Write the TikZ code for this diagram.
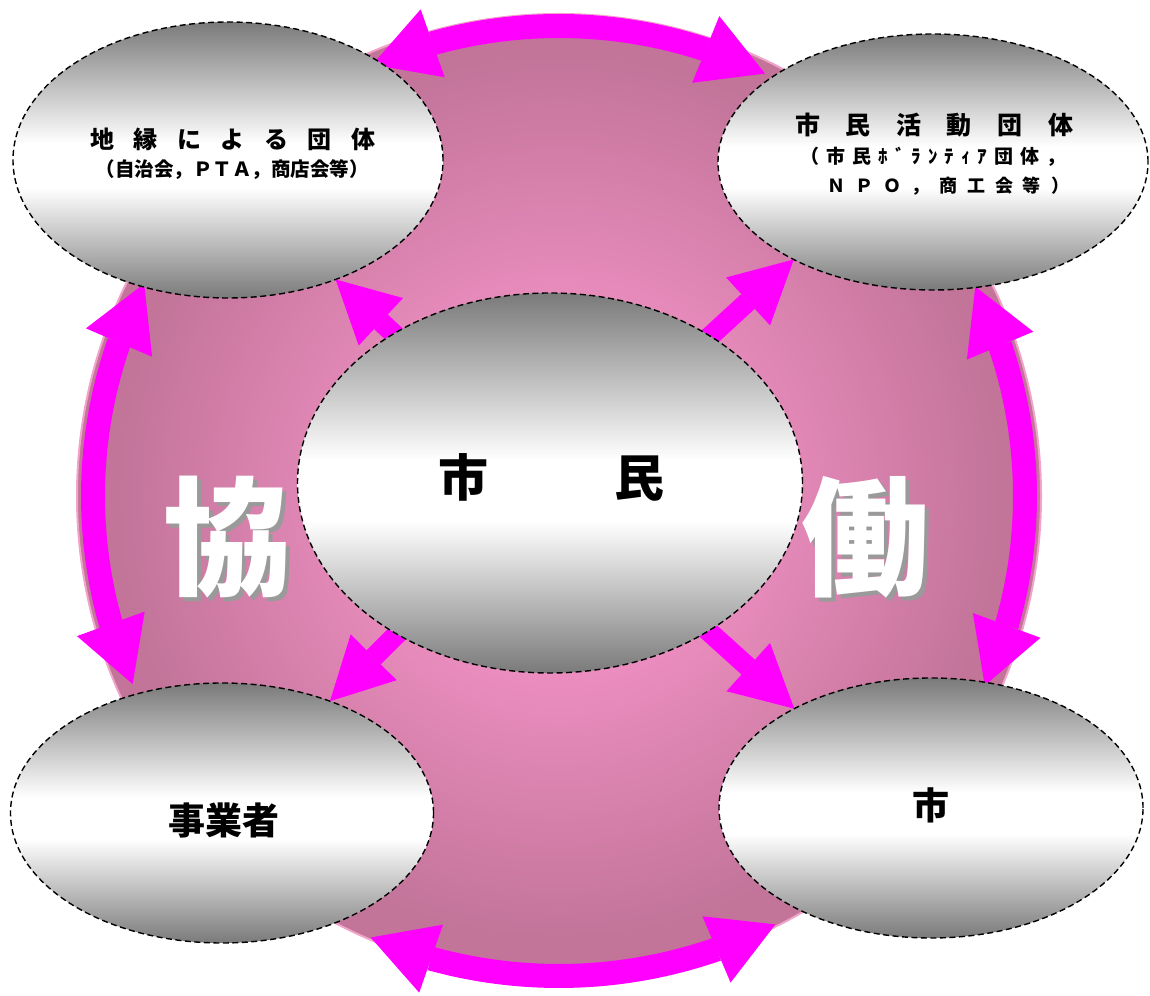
\documentclass[tikz,border=0pt]{standalone}
\usepackage{fontspec}
\newfontfamily\jp{Noto Sans CJK JP}
\usetikzlibrary{arrows.meta,bending,shapes.geometric}
\definecolor{mag}{HTML}{FF00FF}
\definecolor{pkout}{HTML}{C27499}
\definecolor{pkin}{HTML}{EC8EC0}
\definecolor{pkrim}{HTML}{F2A3CA}
\definecolor{eg}{HTML}{7A7A7A}
\definecolor{shadowgray}{HTML}{9A9A9A}
\pgfdeclareverticalshading{grayband}{100bp}{color(0bp)=(eg); color(25bp)=(eg); color(45bp)=(white); color(53bp)=(white); color(75bp)=(eg); color(100bp)=(eg)}
\pgfdeclareradialshading{pinkglow}{\pgfpoint{0bp}{0bp}}{color(0bp)=(pkin); color(9bp)=(pkin); color(23bp)=(pkout); color(50bp)=(pkout)}
\makeatletter
\newcommand\lsp[2]{\def\lsp@f{1}\@tfor\lsp@c:=#2\do{\ifnum\lsp@f=1 \def\lsp@f{0}\else\kern#1\fi\lsp@c}}
\makeatother
\newcommand\jfs[1]{\jp\bfseries\fontsize{#1}{#1}\selectfont}
\newcommand\shadowed[1]{\rlap{\kern4pt\raisebox{-4pt}{\textcolor{shadowgray}{#1}}}\textcolor{white}{#1}}
\begin{document}
\begin{tikzpicture}[x=1pt,y=1pt,
  ell/.style={ellipse, draw=black, line width=1.4pt, dash pattern=on 6pt off 3.5pt, shade, shading=grayband, inner sep=0pt, outer sep=0pt},
  arcarrow/.style={draw=mag, line width=24pt, >={Triangle[length=64pt,width=72pt,flex,line width=0pt]}, <->},
  sarrow/.style={draw=mag, line width=20pt, -{Triangle[length=62pt,width=65pt,line width=0pt]}},
  jtext/.style={text=black, inner sep=0pt, outer sep=0pt, align=center},
  bigchar/.style={inner sep=0pt, font=\jfs{128}}
]
\useasboundingbox (0,0) rectangle (1150,995);
\coordinate (O) at (559,499);
\shade[shading=pinkglow, draw=pkrim, line width=2pt] (O) circle[radius=482];

% curved double arrows along the circle
\draw[arcarrow] ([shift={(O)}]113.4:470) arc[start angle=113.4, end angle=64, radius=470];
\draw[arcarrow] ([shift={(O)}]26.7:466) arc[start angle=26.7, end angle=-24, radius=466];
\draw[arcarrow] ([shift={(O)}]152.9:466) arc[start angle=152.9, end angle=203.8, radius=466];
\draw[arcarrow] ([shift={(O)}]246.9:480) arc[start angle=246.9, end angle=296.8, radius=480];

% ellipses
\node[ell, minimum width=430pt, minimum height=276pt] (tl) at (228,835) {};
\node[ell, minimum width=430pt, minimum height=256pt] (tr) at (933,833) {};
\node[ell, minimum width=423pt, minimum height=260pt] (bl) at (222,182) {};
\node[ell, minimum width=424pt, minimum height=260pt] (br) at (931,187) {};

% straight arrows from the centre
\draw[sarrow] (550,512) ++(136.2:180) coordinate (s1) -- (tl.312.5);
\draw[sarrow] (550,512) ++(42.5:180) coordinate (s2) -- (tr.215.7);
\draw[sarrow] (550,512) ++(224.5:180) coordinate (s3) -- (bl.46.4);
\draw[sarrow] (550,512) ++(316.7:180) coordinate (s4) -- (br.144.2);

\node[ell, minimum width=505pt, minimum height=380pt] (c) at (550,512) {};

% texts
\node[jtext, font=\jfs{24}] (tl1) at (233,856) {\lsp{19.5pt}{地縁による団体}};
\node[jtext, font=\jfs{19.5}] (tl2) at (232,825) {（自治会，ＰＴＡ，商店会等）};
\node[jtext, font=\jfs{25}] (tr1) at (934,870) {\lsp{25.6pt}{市民活動団体}};
\node[jtext, font=\jfs{19}] (tr2) at (933,838) {\lsp{7pt}{（市民ﾎﾞﾗﾝﾃｨｱ団体，}};
\node[jtext, font=\jfs{18}] (tr3) at (948,809) {\lsp{10pt}{ＮＰＯ，商工会等）}};
\node[jtext, font=\jfs{50}] (ct) at (551,518) {市\hspace{126pt}民};
\node[jtext, font=\jfs{37}] (blt) at (224,175) {事業者};
\node[jtext, font=\jfs{37}] (brt) at (931,190) {市};

\node[bigchar] (k1) at (227,456) {\shadowed{協}};
\node[bigchar] (k2) at (865,456) {\shadowed{働}};
\end{tikzpicture}
\end{document}
